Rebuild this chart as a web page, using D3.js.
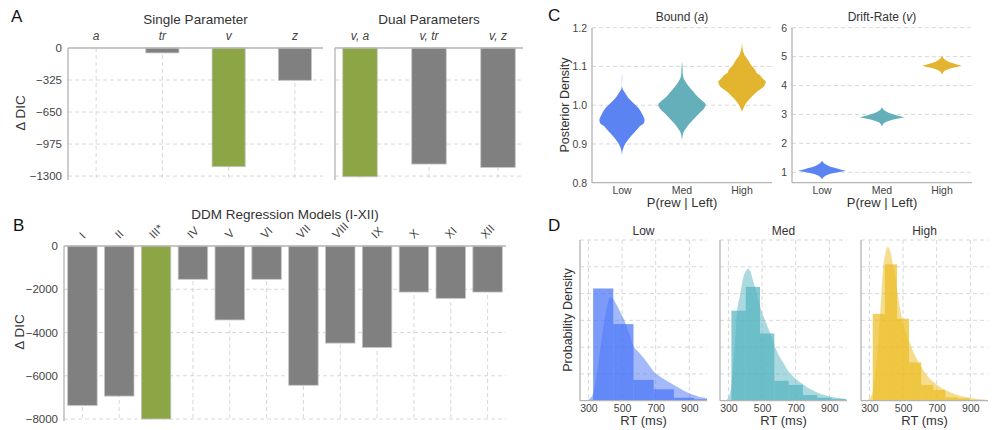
<!DOCTYPE html>
<html>
<head>
<meta charset="utf-8">
<script src="https://cdn.jsdelivr.net/npm/d3@7"></script>
<style>
  body { margin: 0; background: #fff; }
  text { font-family: "Liberation Sans", Arial, Helvetica, sans-serif; }
</style>
</head>
<body>
<svg id="fig" width="995" height="430"></svg>
<script>
// ---- data ----
const singleParams = ["a", "tr", "v", "z"];
const singleDIC = [0, -50, -1205, -328];
const dualParams = ["v, a", "v, tr", "v, z"];
const dualDIC = [-1307, -1178, -1212];
const dicTicksA = [0, -325, -650, -975, -1300];

const regModels = ["I", "II", "III*", "IV", "V", "VI", "VII", "VIII", "IX", "X", "XI", "XII"];
const regDIC = [-7370, -6940, -8000, -1540, -3420, -1540, -6440, -4490, -4690, -2130, -2420, -2130];
const dicTicksB = [0, -2000, -4000, -6000, -8000];

const bestModels = ["v", "v, a", "III*"];

const conditions = ["Low", "Med", "High"];
const condColors = ["#5b83f2", "#64afb9", "#e3b52f"];
const histColors = ["#4a74f5", "#55b3bf", "#ecbc22"];

const boundTicks = [0.8, 0.9, 1.0, 1.1, 1.2];
const driftTicks = [1, 2, 3, 4, 5, 6];

// violin profiles: [parameter value, relative density]
const boundLow = [[0.8715, 0], [0.8844, 0.03], [0.8973, 0.11], [0.9102, 0.25], [0.9274, 0.49], [0.9403, 0.68],
  [0.9446, 0.73], [0.9532, 0.92], [0.9635, 0.95], [0.9747, 0.87], [0.9833, 0.8], [0.9919, 0.7], [1.0048, 0.49],
  [1.0177, 0.28], [1.0306, 0.14], [1.0435, 0.02], [1.0839, 0]];
const boundMed = [[0.9058, 0], [0.9273, 0.05], [0.9402, 0.17], [0.9531, 0.33], [0.966, 0.52], [0.9789, 0.72],
  [0.9918, 0.93], [1.0021, 1.0], [1.009, 0.9], [1.0219, 0.66], [1.0348, 0.48], [1.0477, 0.3], [1.0607, 0.15],
  [1.0736, 0.05], [1.0994, 0.02], [1.1123, 0]];
const boundHigh = [[0.983, 0], [0.992, 0.06], [1.005, 0.17], [1.018, 0.35], [1.031, 0.56], [1.039, 0.73],
  [1.048, 0.92], [1.061, 1.0], [1.069, 0.87], [1.078, 0.75], [1.083, 0.62], [1.091, 0.56], [1.104, 0.38],
  [1.117, 0.25], [1.13, 0.1], [1.145, 0.03], [1.164, 0]];

const driftLow = [[0.755, 0], [0.824, 0.05], [0.882, 0.14], [0.94, 0.32], [0.986, 0.55], [1.02, 0.78], [1.055, 1.0],
  [1.09, 0.8], [1.136, 0.6], [1.193, 0.35], [1.251, 0.2], [1.32, 0.07], [1.401, 0]];
const driftMed = [[2.58, 0], [2.67, 0.047], [2.727, 0.13], [2.785, 0.3], [2.831, 0.52], [2.865, 0.73], [2.9, 0.94],
  [2.935, 0.75], [2.981, 0.56], [3.038, 0.33], [3.096, 0.19], [3.165, 0.066], [3.246, 0]];
const driftHigh = [[4.37, 0], [4.45, 0.04], [4.507, 0.11], [4.565, 0.26], [4.611, 0.45], [4.645, 0.64], [4.68, 0.82],
  [4.715, 0.66], [4.761, 0.49], [4.818, 0.29], [4.876, 0.16], [4.945, 0.057], [5.026, 0]];

// RT histograms (bin edges in ms, density per ms) and KDE curves [ms, density]
const rtTicks = [300, 500, 700, 900];
const densityTicks = [0.001, 0.002, 0.003, 0.004, 0.005, 0.006];
const lowEdges = [328, 448, 568, 688, 808, 928, 1048];
const lowHist = [0.00419, 0.00286, 0.000775, 0.000425, 0.00011, 0.00005];
const medEdges = [318, 403, 488, 573, 658, 743, 828, 913, 998];
const medHist = [0.00336, 0.00425, 0.00251, 0.00074, 0.00059, 0.00021, 0.00011, 0.00006];
const highEdges = [320, 392, 464, 536, 608, 680, 752, 824, 896];
const highHist = [0.00324, 0.00509, 0.00306, 0.00143, 0.00059, 0.0004, 0.000125, 0.00009];

const lowKde = [[285, 0], [310, 0.00009], [330, 0.0003], [350, 0.001], [370, 0.0019], [390, 0.0028], [410, 0.0035],
  [430, 0.00386], [446, 0.00381], [470, 0.00355], [490, 0.0033], [510, 0.00305], [540, 0.00255], [569, 0.00203],
  [600, 0.0018], [629, 0.00159], [660, 0.00133], [688, 0.00109], [720, 0.00093], [748, 0.00081], [778, 0.0007],
  [808, 0.00059], [838, 0.00048], [867, 0.000375], [897, 0.00029], [927, 0.00021], [957, 0.00015], [987, 0.00011],
  [1005, 0.00009]];
const medKde = [[280, 0], [300, 0.00012], [318, 0.0006], [335, 0.0018], [352, 0.00336], [368, 0.0039], [388, 0.00459],
  [404, 0.00484], [418, 0.00494], [432, 0.0048], [448, 0.00446], [468, 0.004], [488, 0.00352], [508, 0.00315],
  [528, 0.00284], [550, 0.0025], [572, 0.00209], [600, 0.0017], [630, 0.00138], [658, 0.00109], [700, 0.00082],
  [744, 0.00061], [785, 0.00044], [828, 0.00031], [870, 0.00021], [912, 0.00015], [955, 0.0001], [1000, 0.00006]];
const highKde = [[280, 0], [300, 0.00009], [320, 0.00034], [335, 0.001], [350, 0.002], [364, 0.00324], [380, 0.00484],
  [395, 0.0055], [410, 0.00575], [425, 0.00555], [440, 0.00509], [460, 0.00434], [480, 0.00353], [500, 0.0029],
  [536, 0.00221], [570, 0.00171], [606, 0.00128], [640, 0.00096], [680, 0.00071], [715, 0.00054], [750, 0.0004],
  [790, 0.00029], [824, 0.00021], [860, 0.00015], [896, 0.00011], [930, 0.00008], [960, 0.00005], [1005, 0.00003]];

// ---- styling ----
const ink = "#333";
const tickInk = "#444";
const spineColor = "#b4b4b4";
const gridColor = "#d4d4d4";
const barGray = "#808080";
const barGreen = "#8da645";

const svg = d3.select("#fig");

function gridH(g, y, ticks, x0, x1) {
  g.append("g").selectAll("line").data(ticks).join("line")
    .attr("x1", x0).attr("x2", x1)
    .attr("y1", d => y(d)).attr("y2", d => y(d))
    .attr("stroke", gridColor).attr("stroke-width", 0.9).attr("stroke-dasharray", "4,3");
}
function gridV(g, xs, y0, y1) {
  g.append("g").selectAll("line").data(xs).join("line")
    .attr("x1", d => d).attr("x2", d => d)
    .attr("y1", y0).attr("y2", y1)
    .attr("stroke", gridColor).attr("stroke-width", 0.9).attr("stroke-dasharray", "4,3");
}
function spine(g, x1, y1, x2, y2) {
  g.append("line").attr("x1", x1).attr("y1", y1).attr("x2", x2).attr("y2", y2)
    .attr("stroke", spineColor).attr("stroke-width", 1.3);
}
function yLabels(g, y, ticks, x, fmt, size) {
  g.append("g").attr("transform", `translate(${x},0)`)
    .call(d3.axisLeft(y).tickValues(ticks).tickSize(0).tickPadding(0).tickFormat(fmt))
    .attr("font-family", null).attr("font-size", size)
    .call(a => a.select(".domain").remove())
    .call(a => a.selectAll("text").attr("fill", tickInk));
}
function label(g, txt, x, y, size, opts = {}) {
  const t = g.append("text").attr("x", x).attr("y", y).attr("font-size", size)
    .attr("fill", opts.fill || ink).attr("text-anchor", opts.anchor || "middle");
  if (opts.rotate) t.attr("transform", `rotate(${opts.rotate},${x},${y})`);
  t.text(txt);
  return t;
}
function panelLetter(txt, x, y) {
  label(svg, txt, x, y, 17, { anchor: "start", fill: "#111" });
}

// ---- Panel A ----
{
  const g = svg.append("g");
  const y = d3.scaleLinear().domain([-1340, 0]).range([180, 48]);
  const xS = d3.scaleBand().domain(singleParams).range([63, 328]).paddingInner(0.5).paddingOuter(0.25);
  const xD = d3.scaleBand().domain(dualParams).range([325.5, 532.5]).paddingInner(0.5).paddingOuter(0.25);
  const panels = [
    { x: xS, cats: singleParams, vals: singleDIC, x0: 68, x1: 323, title: "Single Parameter" },
    { x: xD, cats: dualParams, vals: dualDIC, x0: 335, x1: 523, title: "Dual Parameters" }
  ];
  panels.forEach(p => {
    gridH(g, y, dicTicksA.slice(1), p.x0, p.x1);
    gridV(g, p.cats.map(c => p.x(c) + p.x.bandwidth() / 2), y(0), y.range()[0]);
    g.append("g").selectAll("rect").data(p.cats).join("rect")
      .attr("x", c => p.x(c)).attr("width", p.x.bandwidth())
      .attr("y", y(0)).attr("height", (c, i) => y(p.vals[i]) - y(0))
      .attr("fill", c => bestModels.includes(c) ? barGreen : barGray)
      .attr("stroke", "#c4c4c4").attr("stroke-width", 0.8);
    spine(g, p.x0, y(0), p.x0, y.range()[0]);
    spine(g, p.x0, y(0), p.x1, y(0));
    g.append("g").attr("transform", `translate(0,${y(0) - 8})`)
      .call(d3.axisTop(p.x).tickSize(0).tickPadding(0))
      .attr("font-family", null).attr("font-size", 12)
      .call(a => a.select(".domain").remove())
      .call(a => a.selectAll("text").attr("fill", tickInk).attr("font-style", "italic"));
    label(g, p.title, (p.x0 + p.x1) / 2, 24, 13.5);
  });
  yLabels(g, y, dicTicksA, 62, d3.format("d"), 11.5);
  label(g, "Δ DIC", 25, 113, 13.5, { rotate: -90 });
  panelLetter("A", 11, 22);
}

// ---- Panel B ----
{
  const g = svg.append("g");
  const y = d3.scaleLinear().domain([-8000, 0]).range([419, 246]);
  const x = d3.scaleBand().domain(regModels).range([64, 506]).paddingInner(0.2).paddingOuter(0.1);
  gridH(g, y, dicTicksB.slice(1), 64, 506);
  gridV(g, regModels.map(c => x(c) + x.bandwidth() / 2), y(0), 421);
  g.append("g").selectAll("rect").data(regModels).join("rect")
    .attr("x", c => x(c)).attr("width", x.bandwidth())
    .attr("y", y(0)).attr("height", (c, i) => y(regDIC[i]) - y(0))
    .attr("fill", c => bestModels.includes(c) ? barGreen : barGray)
    .attr("stroke", "#c4c4c4").attr("stroke-width", 0.8);
  spine(g, 64, y(0), 64, 421);
  spine(g, 64, y(0), 506, y(0));
  // rotated category labels, bottom of rotated box sits above the axis
  const lab = g.append("g").selectAll("text").data(regModels).join("text")
    .attr("font-size", 11.5).attr("fill", tickInk).attr("text-anchor", "middle")
    .attr("dominant-baseline", "central").text(d => d);
  lab.attr("transform", function (d) {
    const w = this.getComputedTextLength();
    const cy = 239.5 - (w + 9) * Math.SQRT1_2 / 2;
    return `translate(${x(d) + x.bandwidth() / 2},${cy}) rotate(-45)`;
  });
  yLabels(g, y, dicTicksB, 58, d3.format("d"), 11.5);
  label(g, "DDM Regression Models (I-XII)", 285, 219, 13.5);
  label(g, "Δ DIC", 24, 332, 13.5, { rotate: -90 });
  panelLetter("B", 13, 231);
}

// ---- Panel C ----
{
  const g = svg.append("g");
  const top = 27.7, bottom = 182.7;
  const panels = [
    { x0: 592, dom: [0.8, 1.2], ticks: boundTicks, fmt: d3.format(".1f"), data: [boundLow, boundMed, boundHigh],
      title: ["Bound (", "a", ")"], curve: d3.curveCatmullRom, halfW: 23.7 },
    { x0: 792, dom: [0.64, 6], ticks: driftTicks, fmt: d3.format("d"), data: [driftLow, driftMed, driftHigh],
      title: ["Drift-Rate (", "v", ")"], curve: d3.curveLinear, halfW: 24 }
  ];
  panels.forEach(p => {
    const x1 = p.x0 + 180;
    const y = d3.scaleLinear().domain(p.dom).range([bottom, top]);
    const x = d3.scaleBand().domain(conditions).range([p.x0, x1]);
    const w = d3.scaleLinear().domain([0, 1]).range([0, p.halfW]);
    gridH(g, y, p.ticks.filter(t => t > p.dom[0]), p.x0, x1);
    p.data.forEach((prof, i) => {
      const cx = x(conditions[i]) + x.bandwidth() / 2;
      const area = d3.area().curve(p.curve)
        .y(d => y(d[0])).x0(d => cx - w(d[1])).x1(d => cx + w(d[1]));
      g.append("path").attr("d", area(prof)).attr("fill", condColors[i]);
    });
    spine(g, p.x0, top, p.x0, bottom);
    spine(g, p.x0, bottom, x1, bottom);
    yLabels(g, y, p.ticks, p.x0 - 5, p.fmt, 10.5);
    g.append("g").attr("transform", `translate(0,${bottom + 4})`)
      .call(d3.axisBottom(x).tickSize(0).tickPadding(0))
      .attr("font-family", null).attr("font-size", 10.5)
      .call(a => a.select(".domain").remove())
      .call(a => a.selectAll("text").attr("fill", tickInk));
    const t = label(g, "", (p.x0 + x1) / 2, 21, 12);
    t.append("tspan").text(p.title[0]);
    t.append("tspan").attr("font-style", "italic").text(p.title[1]);
    t.append("tspan").text(p.title[2]);
    label(g, "P(rew | Left)", (p.x0 + x1) / 2, 207, 13);
  });
  label(g, "Posterior Density", 569, 105, 12.5, { rotate: -90 });
  panelLetter("C", 548, 21);
}

// ---- Panel D ----
{
  const g = svg.append("g");
  const top = 240, bottom = 400.7;
  const y = d3.scaleLinear().domain([0, 0.006]).range([bottom, top]);
  const hists = [
    { x0: 580, edges: lowEdges, hist: lowHist, kde: lowKde },
    { x0: 720, edges: medEdges, hist: medHist, kde: medKde },
    { x0: 861, edges: highEdges, hist: highHist, kde: highKde }
  ];
  hists.forEach((p, i) => {
    const x1 = p.x0 + 127;
    const x = d3.scaleLinear().domain([250, 1005]).range([p.x0, x1]);
    gridH(g, y, densityTicks, p.x0, x1);
    gridV(g, rtTicks.map(x), top, bottom);
    const area = d3.area().curve(d3.curveMonotoneX)
      .x(d => x(d[0])).y0(y(0)).y1(d => y(d[1]));
    g.append("path").attr("d", area(p.kde)).attr("fill", histColors[i]).attr("fill-opacity", 0.5);
    g.append("g").selectAll("rect").data(p.hist).join("rect")
      .attr("x", (d, j) => x(p.edges[j]))
      .attr("width", (d, j) => x(Math.min(p.edges[j + 1], 1005)) - x(p.edges[j]))
      .attr("y", d => y(d)).attr("height", d => y(0) - y(d))
      .attr("fill", histColors[i]).attr("fill-opacity", 0.72);
    spine(g, p.x0, top, p.x0, bottom);
    spine(g, p.x0, bottom, x1, bottom);
    g.append("g").attr("transform", `translate(0,${bottom + 4})`)
      .call(d3.axisBottom(x).tickValues(rtTicks).tickSize(0).tickPadding(0))
      .attr("font-family", null).attr("font-size", 10.5)
      .call(a => a.select(".domain").remove())
      .call(a => a.selectAll("text").attr("fill", tickInk));
    label(g, "RT (ms)", (p.x0 + x1) / 2, 425, 13);
    label(g, conditions[i], (p.x0 + x1) / 2, 235, 12);
  });
  label(g, "Probability Density", 572, 320, 12.5, { rotate: -90 });
  panelLetter("D", 548, 231);
}
</script>
</body>
</html>
